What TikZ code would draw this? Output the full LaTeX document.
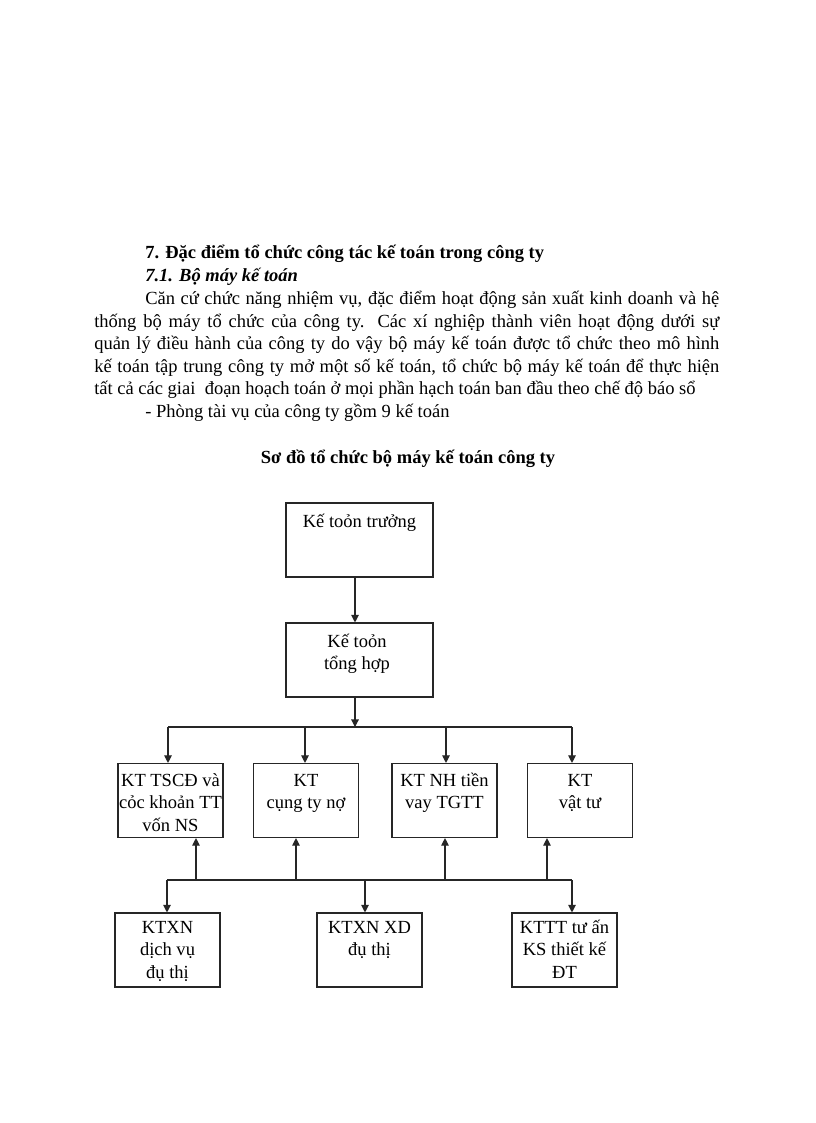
\documentclass[tikz,border=0pt]{standalone}
\usepackage{fontspec}
\setmainfont{Liberation Serif}
\usetikzlibrary{arrows.meta}
\newcommand{\bodyfont}{\fontsize{13.5}{16.6}\selectfont}
\newcommand{\chartfont}{\fontsize{13.5}{16.5}\selectfont}
\newcommand{\lines}[1]{\begin{tabular}[t]{@{}c@{}}#1\end{tabular}}
\begin{document}
\begin{tikzpicture}[x=0.7295pt,y=-0.7295pt,
  txt/.style={inner sep=0pt, anchor=base west, font=\bodyfont},
  box/.style={draw=black!85, line width=0.8pt, inner sep=0pt,
    minimum width=#1*0.7295pt, minimum height=74*0.7295pt},
  box/.default=105,
  btext/.style={inner sep=0pt, anchor=base, font=\chartfont},
  ln/.style={draw=black!85, line width=0.8pt},
  arr/.style={ln, -{Triangle[length=5.5pt,width=5.5pt]}}]
\useasboundingbox (0,0) rectangle (816,1123);
\fill[white] (0,0) rectangle (816,1123);

% ---- text above the chart
\node[txt] (h1) at (145,258) {\textbf{7. Đặc điểm tổ chức công tác kế toán trong công ty}};
\node[txt] (h2) at (145,281) {\textbf{\textit{7.1. Bộ máy kế toán}}};
\node[txt] (p1) at (145,304) {\makebox[418.7pt][s]{Căn cứ chức năng nhiệm vụ, đặc điểm hoạt động sản xuất kinh doanh và hệ}};
\node[txt] (p2) at (94,327) {\makebox[456pt][s]{thống bộ máy tổ chức của công ty. Các xí nghiệp thành viên hoạt động dưới sự}};
\node[txt] (p3) at (94,349) {\makebox[456pt][s]{quản lý điều hành của công ty do vậy bộ máy kế toán được tổ chức theo mô hình}};
\node[txt] (p4) at (94,372) {\makebox[456pt][s]{kế toán tập trung công ty mở một số kế toán, tổ chức bộ máy kế toán để thực hiện}};
\node[txt] (p5) at (94,394) {tất cả các giai\ \ đoạn hoạch toán ở mọi phần hạch toán ban đầu theo chế độ báo sổ};
\node[txt] (p6) at (145,417) {- Phòng tài vụ của công ty gồm 9 kế toán};
\node[txt, anchor=base] (title) at (408,463) {\textbf{Sơ đồ tổ chức bộ máy kế toán công ty}};

% ---- boxes
\node[box=147] (A) at (359.5,540) {};
\node[box=147] (B) at (359.5,660) {};
\node[box] (C1) at (170.5,800.5) {};
\node[box] (C2) at (306,800.5) {};
\node[box] (C3) at (444.5,800.5) {};
\node[box] (C4) at (580,800.5) {};
\node[box] (D1) at (167.5,950) {};
\node[box] (D2) at (369.5,950) {};
\node[box] (D3) at (564.5,950) {};

% ---- box texts
\node[btext] (tA) at (359.5,527) {\lines{Kế toỏn trưởng}};
\node[btext] (tB) at (357,647) {\lines{Kế toỏn\\tổng hợp}};
\node[btext] (tC1) at (170.5,786) {\lines{KT TSCĐ và\\cỏc khoản TT\\vốn NS}};
\node[btext] (tC2) at (306,786) {\lines{KT\\cụng ty nợ}};
\node[btext] (tC3) at (444.5,786) {\lines{KT NH tiền\\vay TGTT}};
\node[btext] (tC4) at (580,786) {\lines{KT\\vật tư}};
\node[btext] (tD1) at (167.5,933) {\lines{KTXN\\dịch vụ\\đụ thị}};
\node[btext] (tD2) at (369.5,933) {\lines{KTXN XD\\đụ thị}};
\node[btext] (tD3) at (564.5,933) {\lines{KTTT tư ấn\\KS thiết kế\\ĐT}};

% ---- junction points
\coordinate (t0) at (355,727);
\coordinate (u1) at (168,727);
\coordinate (u2) at (305,727);
\coordinate (u3) at (446,727);
\coordinate (u4) at (572,727);
\coordinate (v1) at (167,880);
\coordinate (w1) at (196,880);
\coordinate (w2) at (296,880);
\coordinate (v2) at (365,880);
\coordinate (w3) at (445,880);
\coordinate (w4) at (547,880);
\coordinate (v3) at (572,880);

% ---- connectors
\draw[arr] (A.south -| t0) -- (B.north -| t0);
\draw[arr] (B.south -| t0) -- (t0);
\draw[ln] (u1) -- (u4);
\draw[arr] (u1) -- (u1 |- C1.north);
\draw[arr] (u2) -- (u2 |- C2.north);
\draw[arr] (u3) -- (u3 |- C3.north);
\draw[arr] (u4) -- (u4 |- C4.north);
\draw[ln] (v1) -- (v3);
\draw[arr] (w1) -- (w1 |- C1.south);
\draw[arr] (w2) -- (w2 |- C2.south);
\draw[arr] (w3) -- (w3 |- C3.south);
\draw[arr] (w4) -- (w4 |- C4.south);
\draw[arr] (v1) -- (v1 |- D1.north);
\draw[arr] (v2) -- (v2 |- D2.north);
\draw[arr] (v3) -- (v3 |- D3.north);
\end{tikzpicture}
\end{document}
